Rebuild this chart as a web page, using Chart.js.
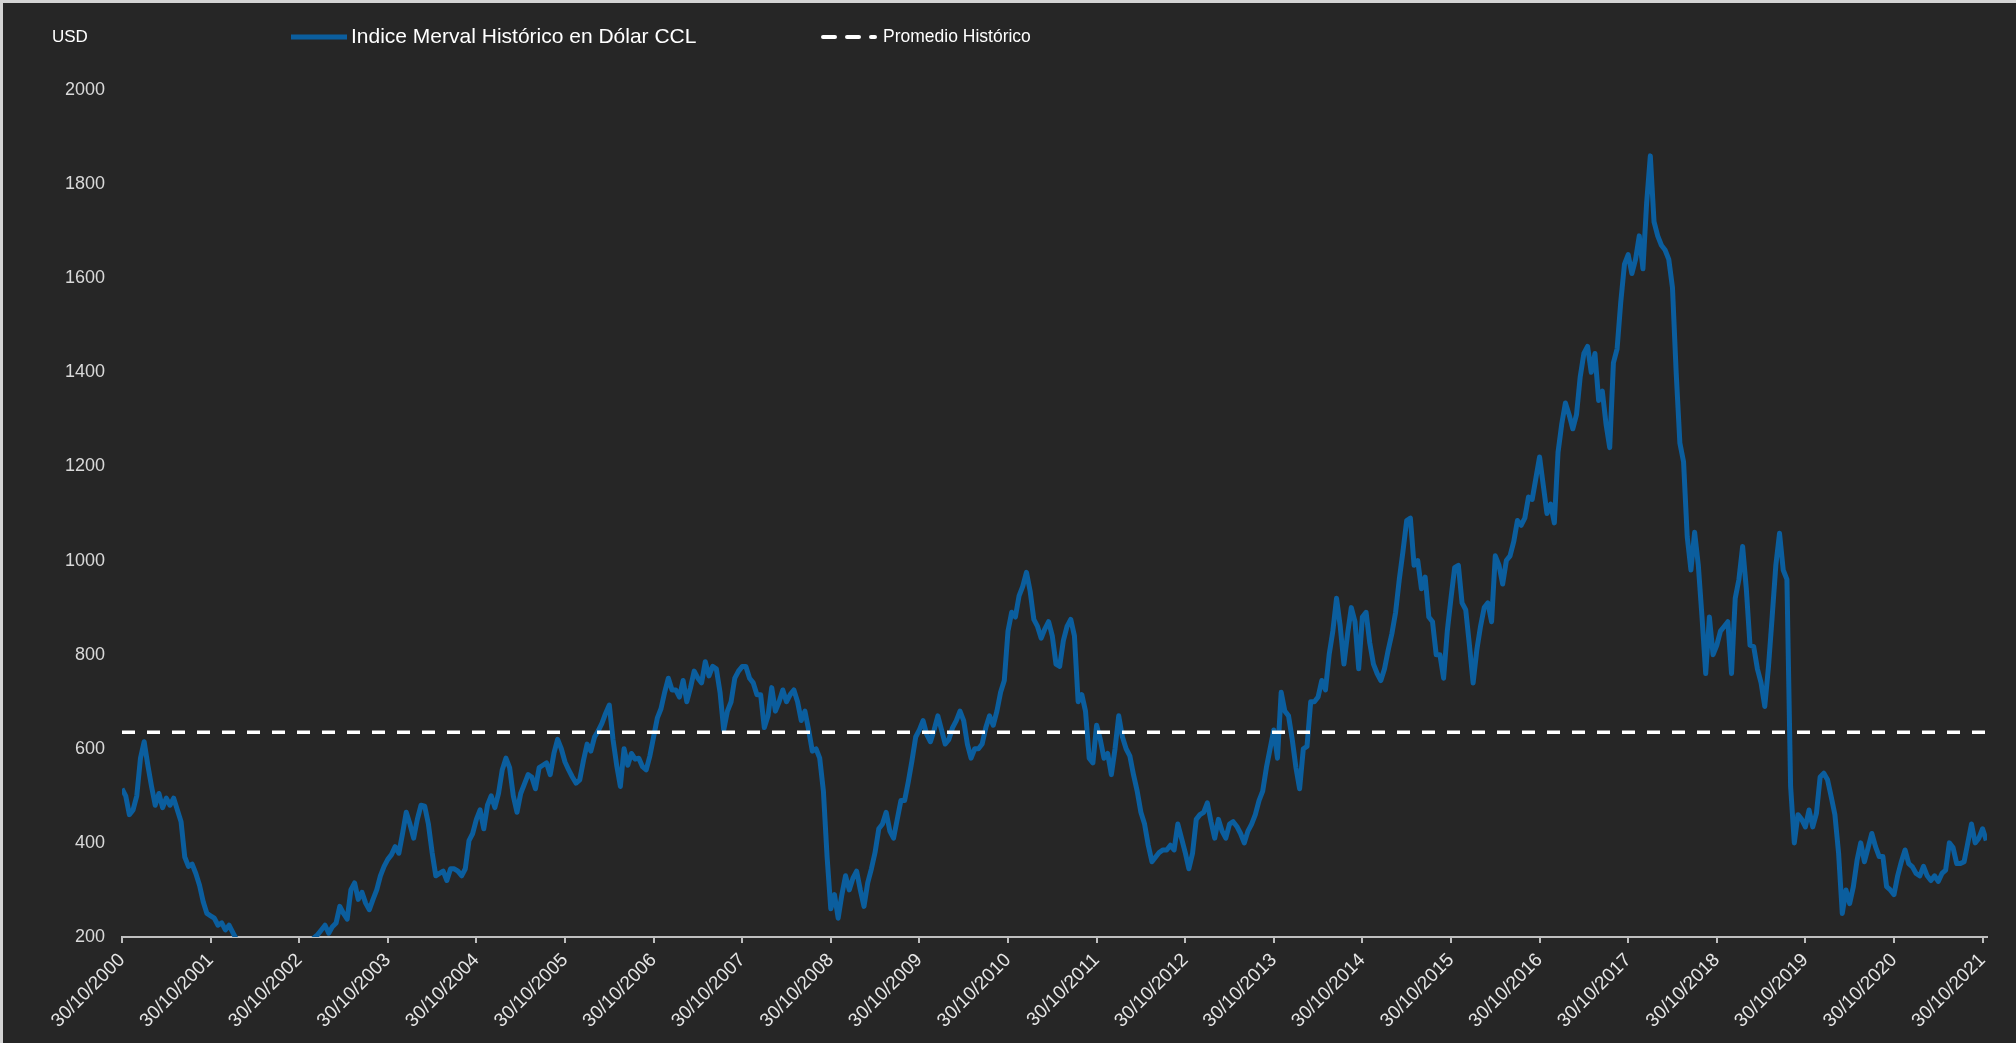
<!DOCTYPE html>
<html lang="es">
<head>
<meta charset="utf-8">
<title>Indice Merval Histórico en Dólar CCL</title>
<script src="https://cdn.jsdelivr.net/npm/chart.js@4.4.1/dist/chart.umd.min.js"></script>
<style>
  html, body { margin: 0; padding: 0; background: #262626; }
  #wrap { position: relative; width: 2016px; height: 1043px; }
</style>
</head>
<body>
<div id="wrap"><canvas id="merval-chart" width="2016" height="1043"></canvas></div>
<script>
// Indice Merval en USD (CCL), una fila por año desde el 30/10 de cada año, dos lecturas por mes
const a2000 = [515, 500, 460, 470, 500, 580, 615, 565, 520, 480, 505, 475, 495, 480, 495, 470, 445, 370, 350, 355, 335, 310, 275, 250];
const a2001 = [245, 240, 225, 230, 215, 225, 210, 195, 180, 170, 160, 150, 140, 130, 125, 120, 120, 125, 130, 135, 140, 150, 155, 160];
const a2002 = [175, 180, 185, 190, 198, 205, 215, 225, 208, 222, 230, 265, 250, 238, 300, 315, 280, 295, 272, 258, 280, 300, 330, 350];
const a2003 = [365, 375, 392, 378, 420, 465, 440, 410, 450, 480, 478, 440, 380, 330, 335, 340, 320, 345, 345, 340, 330, 345, 405, 420];
const a2004 = [450, 470, 430, 480, 500, 475, 505, 555, 580, 560, 500, 465, 505, 525, 545, 540, 515, 560, 565, 570, 545, 590, 620, 600];
const a2005 = [572, 555, 540, 527, 534, 575, 610, 595, 625, 638, 654, 675, 693, 620, 565, 520, 600, 565, 590, 578, 580, 562, 555, 585];
const a2006 = [625, 665, 685, 720, 750, 725, 725, 710, 745, 700, 730, 765, 750, 740, 785, 755, 775, 770, 720, 640, 680, 700, 750, 765];
const a2007 = [775, 775, 750, 740, 715, 715, 645, 670, 730, 680, 700, 725, 700, 715, 725, 700, 660, 680, 640, 595, 600, 580, 510, 370];
const a2008 = [260, 290, 240, 290, 330, 300, 325, 340, 300, 265, 315, 345, 380, 430, 440, 465, 425, 410, 450, 490, 490, 530, 575, 625];
const a2009 = [640, 660, 630, 615, 640, 670, 640, 610, 620, 645, 660, 680, 660, 610, 580, 600, 600, 610, 645, 670, 650, 680, 720, 745];
const a2010 = [850, 890, 880, 925, 945, 975, 935, 875, 860, 835, 855, 870, 840, 780, 775, 830, 860, 875, 840, 700, 715, 680, 580, 570];
const a2011 = [650, 620, 580, 590, 545, 600, 670, 625, 600, 585, 545, 510, 465, 440, 395, 360, 370, 380, 385, 385, 395, 385, 440, 410];
const a2012 = [380, 345, 378, 450, 460, 465, 485, 445, 410, 450, 425, 410, 440, 445, 435, 420, 400, 425, 440, 460, 490, 510, 560, 600];
const a2013 = [640, 580, 720, 680, 670, 620, 560, 515, 600, 605, 700, 700, 710, 745, 725, 800, 850, 920, 860, 780, 845, 900, 870, 770];
const a2014 = [880, 890, 825, 780, 760, 745, 770, 810, 845, 890, 960, 1020, 1085, 1090, 990, 1000, 940, 965, 880, 870, 800, 800, 750, 850];
const a2015 = [920, 985, 990, 910, 895, 820, 740, 810, 860, 900, 910, 870, 1010, 990, 950, 1000, 1010, 1040, 1085, 1075, 1090, 1135, 1130, 1175];
const a2016 = [1220, 1160, 1100, 1120, 1080, 1230, 1290, 1335, 1310, 1280, 1310, 1390, 1440, 1455, 1400, 1440, 1340, 1360, 1290, 1240, 1420, 1450, 1550, 1630];
const a2017 = [1650, 1610, 1640, 1690, 1620, 1760, 1860, 1720, 1690, 1670, 1660, 1640, 1580, 1400, 1250, 1210, 1050, 980, 1060, 990, 880, 760, 880, 800];
const a2018 = [820, 850, 860, 870, 760, 920, 960, 1030, 940, 820, 817, 770, 740, 690, 774, 880, 990, 1058, 980, 960, 520, 400, 460, 450];
const a2019 = [434, 470, 434, 463, 540, 548, 534, 498, 460, 378, 250, 300, 271, 307, 363, 400, 360, 390, 420, 392, 371, 371, 307, 300];
const a2020 = [290, 330, 360, 385, 356, 349, 335, 330, 350, 330, 320, 330, 318, 335, 342, 400, 390, 356, 356, 360, 400, 440, 400, 410];
const a2021 = [430, 405];

const promedioHistorico = 635;
const lecturasPorAnio = 24;
const finSerie = 21.05;

const etiquetasX = ['30/10/2000', '30/10/2001', '30/10/2002', '30/10/2003', '30/10/2004', '30/10/2005',
  '30/10/2006', '30/10/2007', '30/10/2008', '30/10/2009', '30/10/2010', '30/10/2011', '30/10/2012',
  '30/10/2013', '30/10/2014', '30/10/2015', '30/10/2016', '30/10/2017', '30/10/2018', '30/10/2019',
  '30/10/2020', '30/10/2021'];

const nombreSerie = 'Indice Merval Histórico en Dólar CCL';
const nombrePromedio = 'Promedio Histórico';
const colorMerval = '#0B5E9E';
const fuente = '"Liberation Sans", Arial, sans-serif';

const anios = [a2000, a2001, a2002, a2003, a2004, a2005, a2006, a2007, a2008, a2009, a2010,
  a2011, a2012, a2013, a2014, a2015, a2016, a2017, a2018, a2019, a2020, a2021];

const puntosMerval = [];
anios.forEach((valores, k) => {
  valores.forEach((v, i) => puntosMerval.push({ x: k + i / lecturasPorAnio, y: v }));
});

// fondo oscuro con el marco claro y la leyenda de arriba
const fondoYLeyenda = {
  id: 'fondoYLeyenda',
  beforeDraw(chart) {
    const ctx = chart.ctx;
    ctx.save();
    ctx.fillStyle = '#d4d4d4';
    ctx.fillRect(0, 0, chart.width, chart.height);
    ctx.fillStyle = '#262626';
    ctx.fillRect(3, 3, chart.width - 3, chart.height - 3);
    ctx.restore();
  },
  afterDraw(chart) {
    const ctx = chart.ctx;
    ctx.save();
    ctx.textBaseline = 'middle';
    ctx.fillStyle = '#ffffff';
    ctx.font = '17px ' + fuente;
    ctx.fillText('USD', 52, 37);

    ctx.strokeStyle = colorMerval;
    ctx.lineWidth = 5;
    ctx.beginPath();
    ctx.moveTo(291, 37);
    ctx.lineTo(347, 37);
    ctx.stroke();
    ctx.font = '21px ' + fuente;
    ctx.fillText(nombreSerie, 351, 37);

    ctx.strokeStyle = '#ffffff';
    ctx.lineWidth = 4;
    ctx.lineCap = 'round';
    ctx.setLineDash([12, 12]);
    ctx.beginPath();
    ctx.moveTo(823, 37);
    ctx.lineTo(875, 37);
    ctx.stroke();
    ctx.font = '17.5px ' + fuente;
    ctx.fillText(nombrePromedio, 883, 37);
    ctx.restore();
  }
};

Chart.defaults.font.family = fuente;

new Chart(document.getElementById('merval-chart').getContext('2d'), {
  type: 'line',
  data: {
    datasets: [{
      label: nombreSerie,
      data: puntosMerval,
      borderColor: colorMerval,
      borderWidth: 5,
      borderJoinStyle: 'round',
      pointRadius: 0,
      tension: 0,
      order: 1
    }, {
      label: nombrePromedio,
      data: [{ x: 0, y: promedioHistorico }, { x: finSerie, y: promedioHistorico }],
      borderColor: '#ffffff',
      borderWidth: 3.5,
      borderDash: [13, 12],
      pointRadius: 0,
      order: 0
    }]
  },
  options: {
    responsive: false,
    animation: false,
    devicePixelRatio: 1,
    layout: { padding: { top: 90, right: 29, left: 0, bottom: 0 } },
    plugins: {
      legend: { display: false },
      tooltip: { enabled: false }
    },
    scales: {
      x: {
        type: 'linear',
        min: 0,
        max: finSerie,
        afterBuildTicks(scale) {
          scale.ticks = etiquetasX.map((_, i) => ({ value: i }));
        },
        afterFit(scale) {
          scale.height = 106;
        },
        ticks: {
          autoSkip: false,
          maxRotation: 45,
          minRotation: 45,
          padding: 6,
          color: '#e6e6e6',
          font: { size: 19 },
          callback: (value) => etiquetasX[Math.round(value)]
        },
        grid: {
          display: true,
          drawOnChartArea: false,
          drawTicks: true,
          tickLength: 6,
          color: '#bfbfbf',
          lineWidth: 2
        },
        border: { display: true, color: '#bfbfbf', width: 2 }
      },
      y: {
        min: 200,
        max: 2000,
        afterFit(scale) {
          scale.width = 122;
        },
        ticks: {
          stepSize: 200,
          padding: 17,
          color: '#d9d9d9',
          font: { size: 18 },
          callback: (value) => String(value)
        },
        grid: { display: false, drawTicks: false },
        border: { display: false }
      }
    }
  },
  plugins: [fondoYLeyenda]
});
</script>
</body>
</html>
